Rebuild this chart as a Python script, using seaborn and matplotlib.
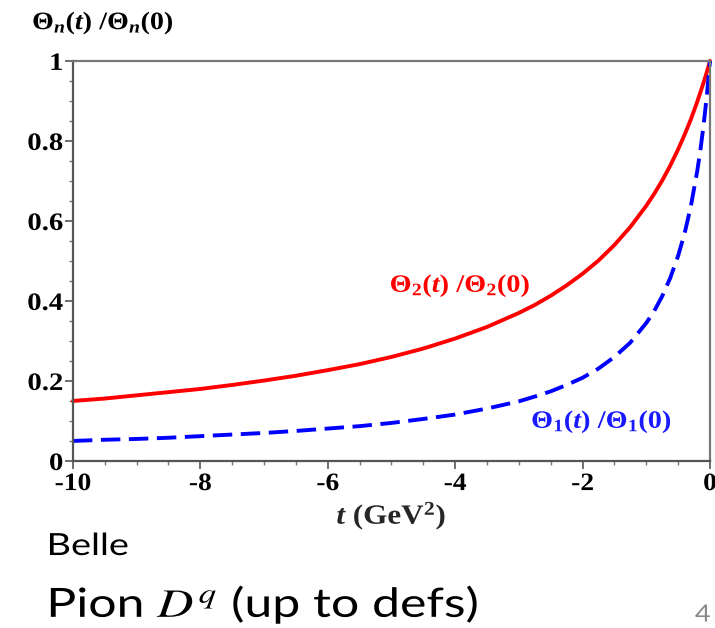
import numpy as np
import pandas as pd
import matplotlib
matplotlib.use("Agg")
import matplotlib.pyplot as plt
from matplotlib.ticker import MultipleLocator, FixedLocator
from matplotlib.patheffects import AbstractPathEffect
from matplotlib.transforms import Affine2D
import seaborn as sns

# momentum transfer t (GeV^2)
t_vals = [-10.0, -9.5, -9.0, -8.5, -8.0, -7.5, -7.0, -6.5, -6.0, -5.5,
          -5.0, -4.5, -4.0, -3.5, -3.0, -2.75, -2.5, -2.25, -2.0, -1.75,
          -1.5, -1.25, -1.0, -0.875, -0.75, -0.625, -0.5, -0.4, -0.3, -0.2,
          -0.15, -0.1, -0.05, -0.025, 0.0]
# Theta_2(t)/Theta_2(0)
theta2_ratio = [0.150, 0.156, 0.164, 0.172, 0.180, 0.190, 0.201, 0.213, 0.227, 0.242,
                0.260, 0.281, 0.306, 0.335, 0.370, 0.390, 0.413, 0.439, 0.468, 0.501,
                0.540, 0.585, 0.638, 0.668, 0.701, 0.738, 0.779, 0.815, 0.854, 0.898,
                0.922, 0.946, 0.972, 0.986, 1.000]
# Theta_1(t)/Theta_1(0)
theta1_ratio = [0.050, 0.053, 0.055, 0.058, 0.062, 0.066, 0.070, 0.075, 0.081, 0.087,
                0.095, 0.105, 0.116, 0.131, 0.149, 0.161, 0.174, 0.190, 0.208, 0.231,
                0.260, 0.296, 0.345, 0.375, 0.412, 0.457, 0.513, 0.568, 0.637, 0.725,
                0.778, 0.840, 0.913, 0.955, 1.000]

x_ticks = [-10, -8, -6, -4, -2, 0]
x_tick_labels = ["-10", "-8", "-6", "-4", "-2", "0"]
y_ticks = [0, 0.2, 0.4, 0.6, 0.8, 1]
y_tick_labels = ["0", "0.2", "0.4", "0.6", "0.8", "1"]


class StretchX(AbstractPathEffect):
    """Widen glyph outlines horizontally around a chosen edge of the text."""

    def __init__(self, sx, anchor="center"):
        super().__init__()
        self.sx = sx
        self.anchor = anchor

    def draw_path(self, renderer, gc, tpath, affine, rgbFace=None):
        ext = tpath.get_extents(affine)
        if self.anchor == "left":
            x0 = ext.x0
        elif self.anchor == "right":
            x0 = ext.x1
        else:
            x0 = 0.5 * (ext.x0 + ext.x1)
        tr = affine + Affine2D().translate(-x0, 0).scale(self.sx, 1).translate(x0, 0)
        renderer.draw_path(gc, tpath, tr, rgbFace)


df = pd.DataFrame({
    "t": t_vals * 2,
    "ratio": theta2_ratio + theta1_ratio,
    "series": ["theta2"] * len(t_vals) + ["theta1"] * len(t_vals),
})

sns.set_theme(style="white")
plt.rcParams["mathtext.fontset"] = "custom"
plt.rcParams["mathtext.rm"] = "Liberation Serif:bold"
plt.rcParams["mathtext.it"] = "Liberation Serif:italic:bold"
plt.rcParams["mathtext.bf"] = "Liberation Serif:bold"

fig = plt.figure(figsize=(7.15, 6.28), dpi=100)
ax = fig.add_axes([0.102, 0.266, 0.891, 0.637])

sns.lineplot(data=df, x="t", y="ratio", hue="series", style="series",
             hue_order=["theta2", "theta1"], style_order=["theta2", "theta1"],
             palette={"theta2": "#ff0000", "theta1": "#0000ff"},
             dashes={"theta2": "", "theta1": (5.0, 2.2)},
             linewidth=2.8, legend=False, ax=ax, clip_on=False)

ax.set_xlim(-10, 0)
ax.set_ylim(0, 1)
ax.set_xlabel("")
ax.set_ylabel("")

ax.xaxis.set_major_locator(FixedLocator(x_ticks))
ax.yaxis.set_major_locator(FixedLocator(y_ticks))
ax.set_xticklabels(x_tick_labels)
ax.set_yticklabels(y_tick_labels)
ax.xaxis.set_minor_locator(MultipleLocator(0.5))
ax.yaxis.set_minor_locator(MultipleLocator(0.05))

serif_bold = dict(family="Liberation Serif", weight="bold")
for lab in ax.get_xticklabels():
    lab.set(fontfamily="Liberation Serif", fontweight="bold", fontsize=18, color="black",
            path_effects=[StretchX(1.1, "center")])
for lab in ax.get_yticklabels():
    lab.set(fontfamily="Liberation Serif", fontweight="bold", fontsize=18, color="black",
            path_effects=[StretchX(1.15, "right")])

ax.tick_params(which="major", direction="out", length=6, width=1.2,
               color="#555555", pad=1, bottom=True, left=True)
ax.tick_params(which="minor", direction="out", length=3, width=1.0,
               color="#777777", bottom=True, left=True)
ax.tick_params(axis="x", which="major", pad=2)

for side, sp in ax.spines.items():
    sp.set_visible(True)
    sp.set_linewidth(1.6)
    sp.set_color("#555555")
ax.spines["top"].set_color("#777777")
ax.spines["right"].set_color("#777777")

# axis captions
fig.text(0.045, 0.963, r"$\Theta_n(t)\ /\Theta_n(0)$", fontsize=18,
         ha="left", va="center", color="black",
         path_effects=[StretchX(1.12, "left")])
ax.text(0.5, -0.1375, r"$t$ (GeV$^2$)", transform=ax.transAxes, fontsize=20,
        ha="center", va="center", path_effects=[StretchX(1.12, "center")], **serif_bold)

# curve annotations
ax.text(-3.92, 0.4375, r"$\Theta_2(t)\ /\Theta_2(0)$", fontsize=18,
        color="#ff0000", ha="center", va="center",
        path_effects=[StretchX(1.13, "center")])
ax.text(-1.70, 0.0975, r"$\Theta_1(t)\ /\Theta_1(0)$", fontsize=18,
        color="#1a1aff", ha="center", va="center",
        path_effects=[StretchX(1.13, "center")])

# slide text below the chart
fig.text(0.066, 0.1162, "Belle", fontsize=22, family="Lato",
         ha="left", va="baseline", color="black",
         path_effects=[StretchX(1.24, "left")])
fig.text(0.066, 0.0175, r"Pion $D^q$ (up to defs)", fontsize=29, family="Lato",
         ha="left", va="baseline", color="black", math_fontfamily="stix",
         path_effects=[StretchX(1.24, "left")])
fig.text(0.972, 0.004, "4", fontsize=17, family="Lato", color="#888888",
         ha="left", va="bottom", path_effects=[StretchX(1.15, "left")])

fig.savefig("out.png", dpi=100)
